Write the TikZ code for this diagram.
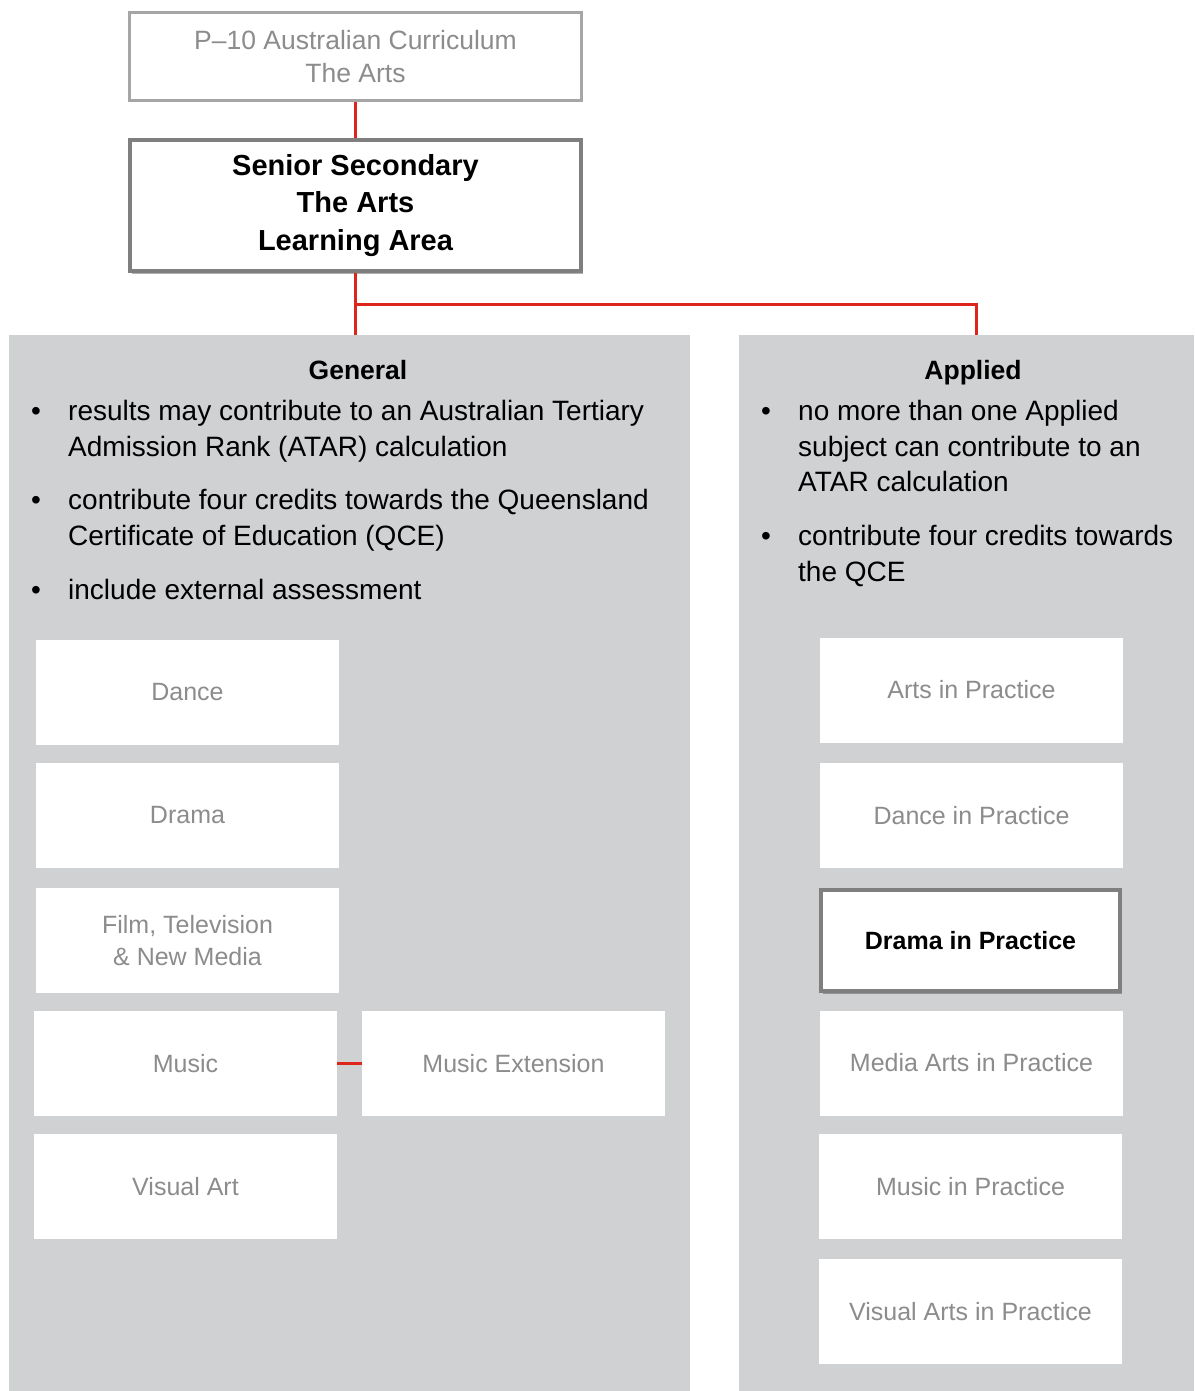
\documentclass[tikz,border=0pt]{standalone}
\usepackage{fontspec}
\setmainfont{Liberation Sans}
\usetikzlibrary{shadows}
\definecolor{panelgray}{RGB}{208,209,211}
\definecolor{boxtext}{RGB}{140,140,140}
\definecolor{topborder}{RGB}{166,166,166}
\definecolor{darkborder}{RGB}{127,127,127}
\definecolor{linkred}{RGB}{222,37,28}
\begin{document}
\begin{tikzpicture}[x=1pt,y=-1pt,
  panel/.style={fill=panelgray, draw=none, inner sep=0, anchor=north west},
  softshadow/.style={drop shadow={shadow xshift=2pt, shadow yshift=-3pt, opacity=0.3, fill=black}},
  subj/.style={fill=white, draw=none, inner sep=0, minimum width=303pt, minimum height=105pt,
    text=boxtext, align=center, font=\fontsize{25}{32}\selectfont},
  subjsel/.style={fill=white, draw=darkborder, line width=4pt, inner sep=0, minimum width=299pt, minimum height=101pt,
    text=black, align=center, font=\fontsize{25}{32}\selectfont\bfseries, softshadow},
  link/.style={draw=linkred, line width=3pt},
  bodytext/.style={anchor=base west, inner sep=0, font=\fontsize{28}{36}\selectfont},
  bul/.style={anchor=base, inner sep=0, font=\fontsize{28}{36}\selectfont},
  head/.style={anchor=base, inner sep=0, font=\fontsize{26.5}{32}\selectfont\bfseries}]
\useasboundingbox (0,0) rectangle (1194,1391);
\fill[white] (0,0) rectangle (1194,1391);

% panels
\node[panel, minimum width=681pt, minimum height=1056pt] (general) at (9,335) {};
\node[panel, minimum width=455pt, minimum height=1056pt] (applied) at (739,335) {};

% top boxes
\node[draw=topborder, line width=3pt, fill=white, minimum width=452pt, minimum height=88pt, inner sep=0,
  text=boxtext, align=center, font=\fontsize{26.5}{33}\selectfont] (p10) at (355.5,56.5)
  {P\textendash10 Australian Curriculum\\The Arts};
\node[draw=darkborder, line width=4pt, fill=white, minimum width=451pt, minimum height=131pt, inner sep=0,
  align=center, font=\fontsize{29}{37.5}\selectfont\bfseries, softshadow] (senior) at (355.5,205.5)
  {Senior Secondary\\The Arts\\Learning Area};

% connectors
\coordinate (br) at (976,304);
\draw[link] (p10.south) -- (senior.north);
\draw[link] (senior.south) -- (senior.south |- general.north);
\draw[link] (senior.south |- br) -| (br |- applied.north);

% General text
\node[head] (ghead) at (358,379) {General};
\node[bul] (gb1) at (36,420) {•};
\node[bodytext] (g1a) at (68,420) {results may contribute to an Australian Tertiary};
\node[bodytext] (g1b) at (68,456) {Admission Rank (ATAR) calculation};
\node[bul] (gb2) at (36,509) {•};
\node[bodytext] (g2a) at (68,509) {contribute four credits towards the Queensland};
\node[bodytext] (g2b) at (68,545) {Certificate of Education (QCE)};
\node[bul] (gb3) at (36,599) {•};
\node[bodytext] (g3a) at (68,599) {include external assessment};

% Applied text
\node[head] (ahead) at (973,379) {Applied};
\node[bul] (ab1) at (766,420) {•};
\node[bodytext] (a1a) at (798,420) {no more than one Applied};
\node[bodytext] (a1b) at (798,456) {subject can contribute to an};
\node[bodytext] (a1c) at (798,491) {ATAR calculation};
\node[bul] (ab2) at (766,545) {•};
\node[bodytext] (a2a) at (798,545) {contribute four credits towards};
\node[bodytext] (a2b) at (798,581) {the QCE};

% General subjects
\node[subj] (dance) at (187.5,692.5) {Dance};
\node[subj] (drama) at (187.5,815.5) {Drama};
\node[subj] (film) at (187.5,940.5) {Film, Television\\\& New Media};
\node[subj] (music) at (185.5,1063.5) {Music};
\node[subj] (visual) at (185.5,1186.5) {Visual Art};
\node[subj] (musicext) at (513.5,1063.5) {Music Extension};
\draw[link] (music.east) -- (musicext.west);

% Applied subjects
\node[subj] (artsp) at (971.5,690) {Arts in Practice};
\node[subj] (dancep) at (971.5,815.5) {Dance in Practice};
\node[subjsel] (dramap) at (970.5,940.5) {Drama in Practice};
\node[subj] (mediap) at (971.5,1063) {Media Arts in Practice};
\node[subj] (musicp) at (970.5,1186.5) {Music in Practice};
\node[subj] (visualp) at (970.5,1311.5) {Visual Arts in Practice};
\end{tikzpicture}
\end{document}
